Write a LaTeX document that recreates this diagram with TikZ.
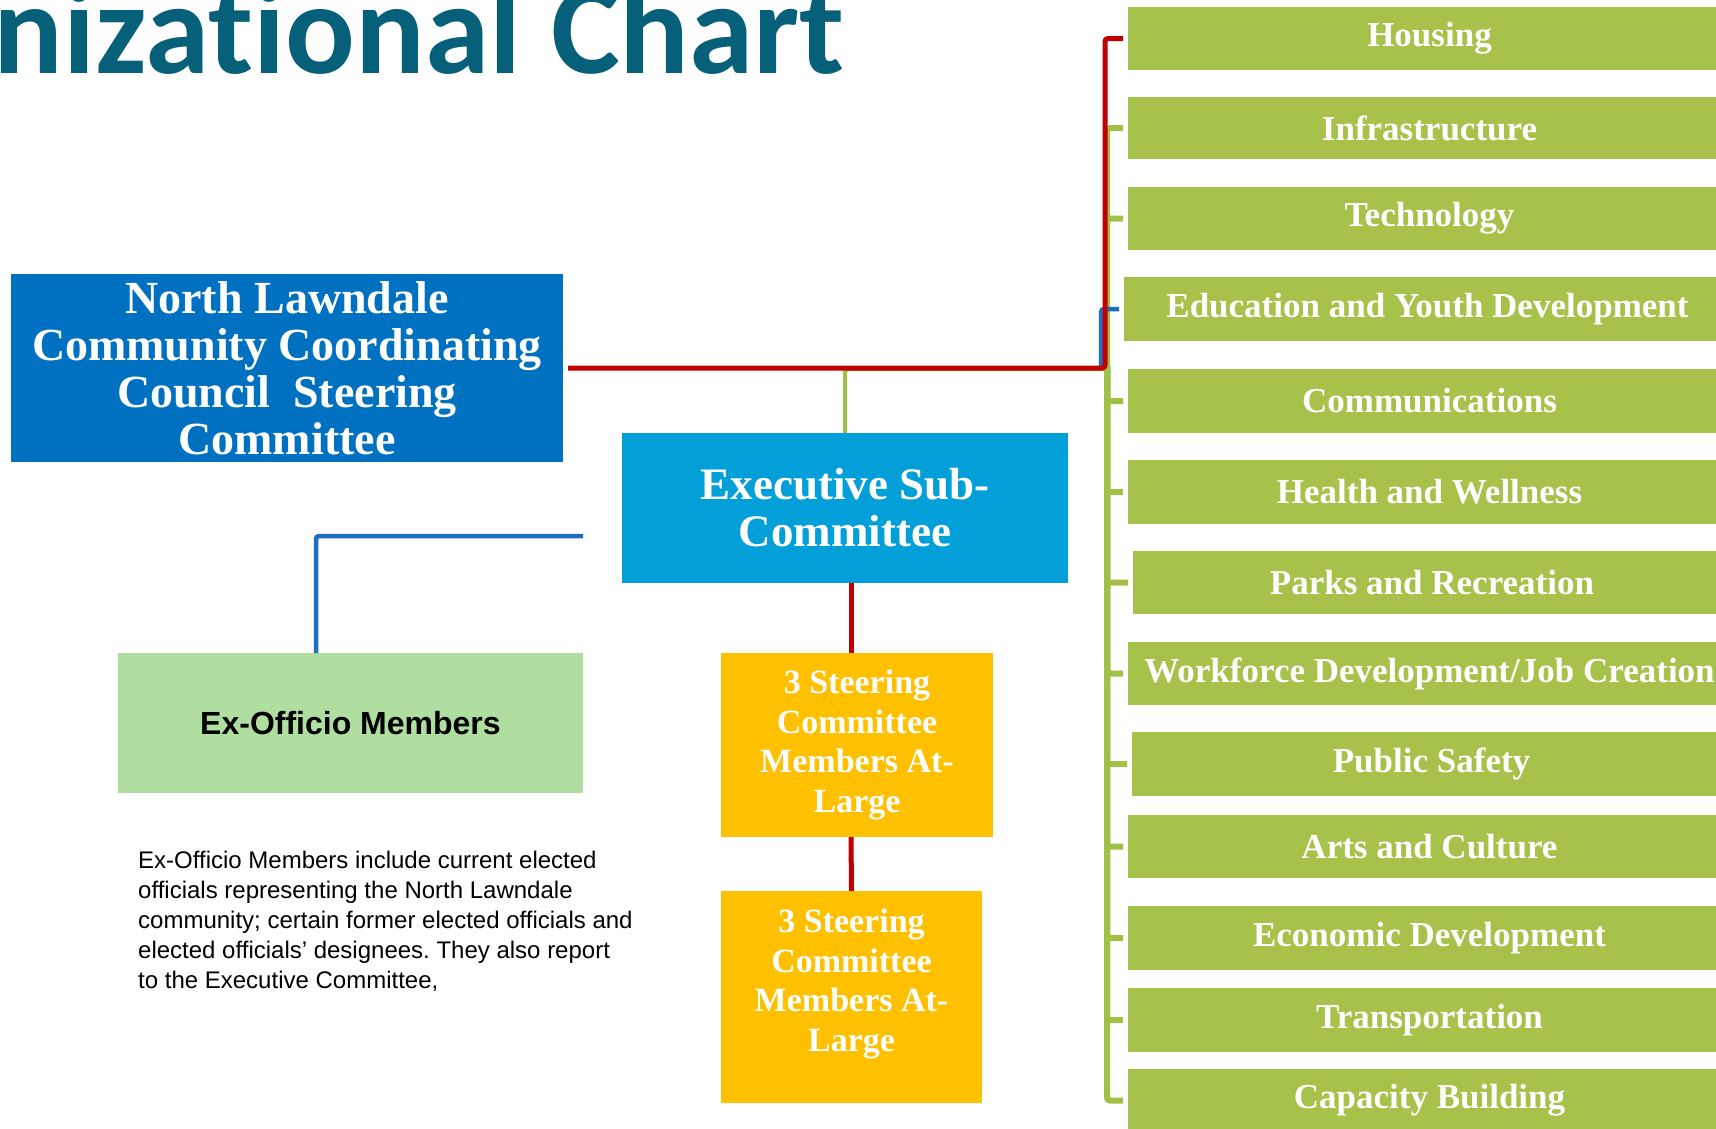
\documentclass[tikz,border=0pt]{standalone}
\usepackage{fontspec}
\setmainfont{Liberation Serif}
\newfontfamily\titlefont[RawFeature=-liga;-dlig;-clig]{Carlito}
\newfontfamily\arialfont{Liberation Sans}
\usetikzlibrary{calc}
\definecolor{titleteal}{RGB}{6,96,122}
\definecolor{nlblue}{RGB}{0,112,192}
\definecolor{execblue}{RGB}{3,159,217}
\definecolor{boxgreen}{RGB}{167,194,75}
\definecolor{exgreen}{RGB}{176,222,161}
\definecolor{boxyellow}{RGB}{255,192,0}
\definecolor{linered}{RGB}{192,0,0}
\definecolor{lineblue}{RGB}{30,110,200}
\definecolor{linegreen}{RGB}{160,192,70}
\frenchspacing
\begin{document}
\begin{tikzpicture}[x=1pt,y=-1pt,
  rect/.style={anchor=north west, inner sep=0, outer sep=0, align=center, text=white},
  gbox/.style={rect, fill=boxgreen, font=\bfseries\fontsize{35}{40}\selectfont},
  ybox/.style={rect, fill=boxyellow, font=\bfseries\fontsize{34}{39.5}\selectfont},
  rline/.style={draw=linered, line width=5, rounded corners=3},
  bline/.style={draw=lineblue, line width=4.5, rounded corners=3},
  gline/.style={draw=linegreen, line width=6, rounded corners=3}]
\useasboundingbox (0,0) rectangle (1716,1128);
\clip (0,0) rectangle (1716,1128);
\fill[white] (0,0) rectangle (1716,1128);

% title
\node[anchor=base east, inner sep=0, text=titleteal,
  font=\titlefont\bfseries\fontsize{130}{130}\selectfont] (title) at (845,73) {Organizational Chart};

% main boxes
\node[rect, fill=nlblue, minimum width=552, minimum height=188,
  font=\bfseries\fontsize{46}{47}\selectfont] (nl) at (11,274)
  {North Lawndale\\Community Coordinating\\Council\ \ Steering\\Committee};
\node[rect, fill=execblue, minimum width=446, minimum height=150,
  font=\bfseries\fontsize{45}{47}\selectfont] (exec) at (622,433)
  {Executive Sub-\\Committee};
\node[rect, fill=exgreen, minimum width=465, minimum height=140, text=black,
  font=\arialfont\bfseries\fontsize{32}{36}\selectfont] (exo) at (118,653)
  {Ex-Officio Members};
\node[anchor=north west, inner sep=0, align=left, text=black,
  font=\arialfont\fontsize{24}{30}\selectfont] (desc) at (138,851)
  {Ex-Officio Members include current elected\\officials representing the North Lawndale\\community; certain former elected officials and\\elected officials’ designees. They also report\\to the Executive Committee,};

\node[ybox, minimum width=272, minimum height=184] (y1) at (721,653)
  {3 Steering\\Committee\\Members At-\\Large};
\node[ybox, minimum width=261, minimum height=212] (y2) at (721,891) {};
\node[anchor=center, inner sep=0, align=center, text=white,
  font=\bfseries\fontsize{34}{39.5}\selectfont] (y2t) at (851.5,984)
  {3 Steering\\Committee\\Members At-\\Large};

% right-hand committees
\node[gbox, minimum width=603, minimum height=63] (hous) at (1128,7) {Housing};
\node[gbox, minimum width=603, minimum height=62] (infr) at (1128,97) {Infrastructure};
\node[gbox, minimum width=603, minimum height=63] (tech) at (1128,187) {Technology};
\node[gbox, minimum width=607, minimum height=64] (educ) at (1124,277) {Education and Youth Development};
\node[gbox, minimum width=603, minimum height=64] (comm) at (1128,369) {Communications};
\node[gbox, minimum width=603, minimum height=64] (heal) at (1128,460) {Health and Wellness};
\node[gbox, minimum width=598, minimum height=63] (park) at (1133,551) {Parks and Recreation};
\node[gbox, minimum width=603, minimum height=63] (work) at (1128,642) {Workforce Development/Job Creation};
\node[gbox, minimum width=599, minimum height=64] (publ) at (1132,732) {Public Safety};
\node[gbox, minimum width=603, minimum height=63] (arts) at (1128,815) {Arts and Culture};
\node[gbox, minimum width=603, minimum height=64] (econ) at (1128,906) {Economic Development};
\node[gbox, minimum width=603, minimum height=64] (tran) at (1128,988) {Transportation};
\node[gbox, minimum width=603, minimum height=63] (capa) at (1128,1069) {Capacity Building};

% connectors
\coordinate (jg) at (1107,366);
\coordinate (jg2) at (1107,369);
\coordinate (jb) at (1101,366);
\coordinate (jr) at (1105,38.5);
\coordinate (bx) at (583,536);

\foreach \b in {infr,tech,comm,heal,park,work,publ,arts,econ,tran,capa}
  \draw[gline, shorten >=5] (jg) |- (\b.west);
\draw[gline, line width=4] (jg2) -| (exec.north);
\draw[bline, shorten >=5] (jb) |- (educ.west);
\draw[rline, shorten <=5, shorten >=5] (nl.east) -| (jr) -- (hous.west);

\draw[bline] (bx) -| ($(exo.north west)+(198,0)$);
\draw[rline, rounded corners=0] ($(exec.south)+(6,0)$) -- ($(y1.north)+(-6,0)$);
\draw[rline, rounded corners=0] ($(y1.south)+(-6,0)$) -- ($(y2.north)+(0,0)$);
\end{tikzpicture}
\end{document}
